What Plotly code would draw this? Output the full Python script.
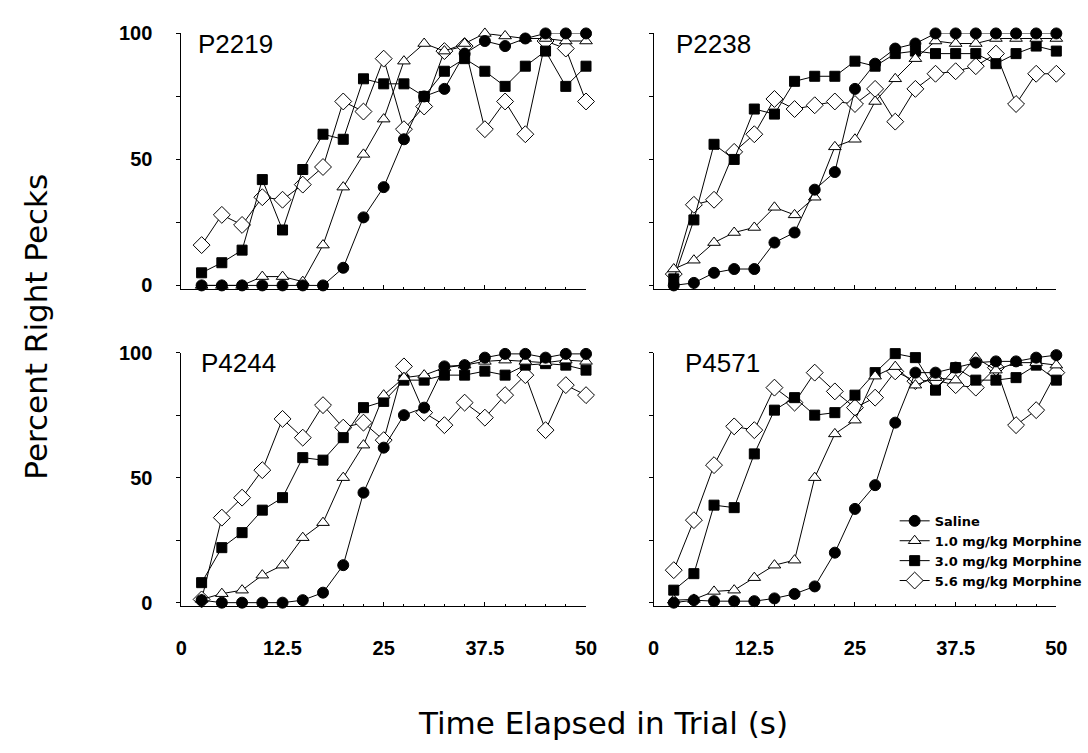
import plotly.graph_objects as go
from plotly.subplots import make_subplots

time_s = [2.5, 5, 7.5, 10, 12.5, 15, 17.5, 20, 22.5, 25, 27.5, 30, 32.5, 35, 37.5, 40, 42.5, 45, 47.5, 50]

series_names = ["Saline", "1.0 mg/kg Morphine", "3.0 mg/kg Morphine", "5.6 mg/kg Morphine"]
panel_names = ["P2219", "P2238", "P4244", "P4571"]

# P2219
p2219_saline = [0, 0, 0, 0, 0, 0, 0, 7, 27, 39, 58, 75, 78, 92, 97, 95, 98, 100, 100, 100]
p2219_mor10 = [0, 0, 0, 3.5, 3.5, 1.5, 16, 39, 52, 66, 89, 96, 93, 96, 100, 99, 98, 98, 97, 97]
p2219_mor30 = [5, 9, 14, 42, 22, 46, 60, 58, 82, 80, 80, 75, 85, 90, 85, 79, 87, 93, 79, 87]
p2219_mor56 = [16, 28, 24, 35, 34, 40, 47, 73, 69, 90, 62, 71, 93, 95, 62, 73, 60, 97, 94, 73]
# P2238
p2238_saline = [0, 1, 5, 6.5, 6.5, 17, 21, 38, 45, 78, 88, 94, 96, 100, 100, 100, 100, 100, 100, 100]
p2238_mor10 = [6.5, 10, 17, 21, 23, 31, 28, 35, 55, 58, 73, 82, 90, 97, 96, 96, 98, 98, 98, 98]
p2238_mor30 = [2.6, 26, 56, 50, 70, 68, 81, 83, 83, 89, 87, 92, 93, 92, 92, 92, 88, 92, 95, 93]
p2238_mor56 = [4.5, 32, 34, 53, 60, 74, 70, 71.5, 73, 72, 78, 65, 78, 84, 85, 87, 92, 72, 84, 84]
# P4244
p4244_saline = [1, 0, 0, 0, 0, 1, 4, 15, 44, 62, 75, 78, 94.5, 95, 98, 99.5, 99.5, 98, 99.5, 99.5]
p4244_mor10 = [1.3, 3.6, 5, 11, 15, 26, 32, 50, 63, 83, 90, 91, 94, 95, 96.5, 97, 96.5, 96, 97, 96.5]
p4244_mor30 = [8, 22, 28, 37, 42, 58, 57, 66, 78, 80.5, 89, 89, 91, 91, 92.6, 91, 95, 95.6, 95, 93]
p4244_mor56 = [1.3, 34, 42, 53, 73.5, 66, 79, 70, 72, 65, 94.5, 76, 71, 80, 74, 83, 91, 69, 87, 83]
# P4571
p4571_saline = [0, 1, 0.6, 0.6, 0.6, 1.7, 3.5, 6.5, 20, 37.5, 47, 72, 92, 92, 94, 96, 96.5, 96.5, 98, 99]
p4571_mor10 = [1, 1.3, 4.5, 5, 10, 15, 17, 50, 67.5, 73, 90.6, 94.4, 87, 90, 89, 98, 93, 96, 96, 95]
p4571_mor30 = [5, 11.6, 39, 38, 59.5, 77, 82, 75, 76, 83, 92, 99.6, 98, 85, 94, 89, 89, 90, 95, 89]
p4571_mor56 = [13, 33, 55, 70.5, 69, 86, 80, 92, 84.5, 78, 82, 92.5, 88.6, 89, 87, 86, 94, 71, 77, 92]

panels = [
    [p2219_saline, p2219_mor10, p2219_mor30, p2219_mor56],
    [p2238_saline, p2238_mor10, p2238_mor30, p2238_mor56],
    [p4244_saline, p4244_mor10, p4244_mor30, p4244_mor56],
    [p4571_saline, p4571_mor10, p4571_mor30, p4571_mor56],
]

y_ticks = [0, 25, 50, 75, 100]
y_ticktext = ["0", "", "50", "", "100"]
x_ticks = [0, 12.5, 25, 37.5, 50]
x_ticktext = ["0", "12.5", "25", "37.5", "50"]

FONT = "Liberation Sans, Arial, Helvetica, sans-serif"
WIDE = "DejaVu Sans, Verdana, sans-serif"

styles = [
    dict(symbol="circle", size=11, color="black", line=dict(color="black", width=1)),
    dict(symbol="triangle-up", size=11, color="white", line=dict(color="black", width=1)),
    dict(symbol="square", size=10, color="black", line=dict(color="black", width=1)),
    dict(symbol="diamond", size=13, color="white", line=dict(color="black", width=1)),
]

fig = make_subplots(rows=2, cols=2)

draw_order = [3, 2, 1, 0]
for p, data in enumerate(panels):
    r, c = p // 2 + 1, p % 2 + 1
    for s in draw_order:
        fig.add_trace(
            go.Scatter(
                x=time_s, y=data[s], mode="lines+markers",
                name=series_names[s],
                line=dict(color="black", width=1),
                marker=styles[s],
                cliponaxis=False,
                showlegend=(p == 3),
                legendrank=s + 1,
            ),
            row=r, col=c,
        )

col_domains = [[179 / 1088, 592 / 1088], [661 / 1088, 1072 / 1088]]
row_domains = [[1 - 285 / 753, 1 - 23 / 753], [1 - 610 / 753, 1 - 350 / 753]]

for p in range(4):
    r, c = p // 2, p % 2
    ax = "" if p == 0 else str(p + 1)
    fig.layout["xaxis" + ax].update(
        domain=col_domains[c], range=[0, 50],
        showline=True, linecolor="black", linewidth=1, mirror=False,
        showgrid=False, zeroline=False,
        ticks="inside", ticklen=4, tickcolor="black",
        tickvals=x_ticks, ticktext=x_ticktext,
        showticklabels=(r == 1),
        ticklabelstandoff=24,
        tickfont=dict(family=FONT, size=20, color="black", weight="bold"),
        minor=dict(ticks="inside", ticklen=2, tickcolor="black", dtick=2.5, showgrid=False),
    )
    fig.layout["yaxis" + ax].update(
        domain=row_domains[r], range=[-1.5, 100],
        showline=True, linecolor="black", linewidth=1,
        showgrid=False, zeroline=False,
        ticks="outside", ticklen=4, tickcolor="black",
        tickvals=y_ticks, ticktext=y_ticktext,
        showticklabels=(c == 0),
        ticklabelstandoff=20,
        tickfont=dict(family=FONT, size=20, color="black", weight="bold"),
    )

label_offsets = [0.036, 0.05, 0.044, 0.073]
for p, name in enumerate(panel_names):
    ax = "" if p == 0 else str(p + 1)
    fig.add_annotation(
        text=name, xref="x" + ax + " domain", yref="y" + ax + " domain",
        x=label_offsets[p], y=0.96, xanchor="left", yanchor="middle",
        showarrow=False, font=dict(family=FONT, size=26, color="black"),
    )

fig.add_annotation(
    text="Percent Right Pecks", xref="paper", yref="paper",
    x=31 / 1088, y=1 - 323 / 753, textangle=-90,
    xanchor="center", yanchor="middle", showarrow=False,
    font=dict(family=WIDE, size=31, color="black"),
)
fig.add_annotation(
    text="Time Elapsed in Trial (s)", xref="paper", yref="paper",
    x=609 / 1088, y=1 - 729 / 753,
    xanchor="center", yanchor="middle", showarrow=False,
    font=dict(family=WIDE, size=31, color="black"),
)

fig.update_layout(
    width=1088, height=753,
    margin=dict(l=0, r=0, t=0, b=0),
    paper_bgcolor="white", plot_bgcolor="white",
    showlegend=True,
    legend=dict(
        x=907 / 1088, y=1 - 507 / 753, xanchor="left", yanchor="top",
        bgcolor="rgba(0,0,0,0)", borderwidth=0,
        font=dict(family=WIDE, size=13, color="black", weight="bold"),
        traceorder="normal", tracegroupgap=0,
    ),
)

fig.write_html("out.html")
